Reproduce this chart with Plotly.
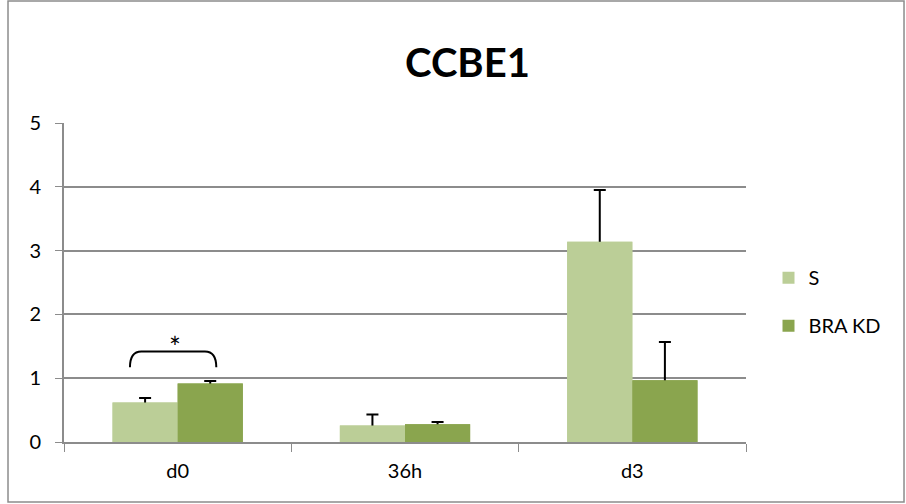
import plotly.graph_objects as go

categories = ["d0", "36h", "d3"]
s_vals = [0.62, 0.26, 3.14]
s_err = [0.07, 0.17, 0.81]
kd_vals = [0.915, 0.28, 0.967]
kd_err = [0.04, 0.035, 0.60]
series_names = ["S", "BRA KD"]
title_text = "CCBE1"
y_ticks = [0, 1, 2, 3, 4, 5]

c_s = "#BBCE97"
c_kd = "#8AA54E"
font_fam = "Lato, 'Open Sans', sans-serif"
hide = [0.05, 0.05, 0.05]  # error stem start hidden inside bar

fig = go.Figure()
fig.add_trace(go.Bar(
    x=categories, y=s_vals, name=series_names[0], marker_color=c_s,
    marker_line_width=0, legendgroup="a", offsetgroup="1",
    error_y=dict(type="data", symmetric=False, array=s_err, arrayminus=hide,
                 color="black", thickness=2, width=6),
))
fig.add_trace(go.Bar(
    x=categories, y=kd_vals, name=series_names[1], marker_color=c_kd,
    marker_line_width=0, legendgroup="b", offsetgroup="2",
    error_y=dict(type="data", symmetric=False, array=kd_err, arrayminus=hide,
                 color="black", thickness=2, width=6),
))
# cover copies (hide lower error caps inside bars)
fig.add_trace(go.Bar(x=categories, y=s_vals, marker_color=c_s, marker_line_width=0,
                     offsetgroup="1", showlegend=False, hoverinfo="skip", legendgroup="a"))
fig.add_trace(go.Bar(x=categories, y=kd_vals, marker_color=c_kd, marker_line_width=0,
                     offsetgroup="2", showlegend=False, hoverinfo="skip", legendgroup="b"))

# significance bracket over d0
fig.add_shape(type="path", xref="x", yref="y",
              path="M -0.21,1.17 Q -0.21,1.42 -0.16,1.42 L 0.12,1.42 Q 0.17,1.42 0.17,1.17",
              line=dict(color="black", width=2))
fig.add_annotation(x=-0.01, y=1.49, xref="x", yref="y", text="*", showarrow=False,
                   font=dict(size=28, color="black", family=font_fam))

# outer border
fig.add_shape(type="rect", xref="paper", yref="paper",
              x0=-0.0821, x1=1.2317, y0=-0.188, y1=1.3824,
              line=dict(color="#8c8c8c", width=1.5), layer="below")

fig.update_layout(
    width=906, height=504,
    margin=dict(l=64, r=160, t=123, b=62),
    paper_bgcolor="white", plot_bgcolor="white",
    barmode="group", bargap=0.427, bargroupgap=0,
    title=dict(text="<b>" + title_text + "</b>", x=0.516, xanchor="center",
               y=0.875, yanchor="middle",
               font=dict(size=40, color="black", family=font_fam)),
    font=dict(family=font_fam, color="black", size=20),
    legend=dict(x=1.033, xanchor="left", y=0.44, yanchor="middle",
                traceorder="grouped", tracegroupgap=19,
                font=dict(size=20, color="black"), bgcolor="rgba(0,0,0,0)"),
    showlegend=True,
)
fig.update_xaxes(type="category", tickson="boundaries", ticks="outside", ticklen=8,
                 tickcolor="#8c8c8c", showline=True, linecolor="#8c8c8c", linewidth=2,
                 showgrid=False, tickfont=dict(size=20, color="black"),
                 ticklabelstandoff=10)
fig.update_yaxes(range=[0, 5], tickvals=y_ticks, ticks="outside", ticklen=7,
                 tickcolor="#8c8c8c", showline=True, linecolor="#8c8c8c", linewidth=2,
                 showgrid=True, gridcolor="#8c8c8c", gridwidth=1.5, zeroline=False,
                 tickfont=dict(size=20, color="black"), ticklabelstandoff=10)

fig.write_html("out.html", config={"displayModeBar": False},
               post_script="document.body.style.margin='0';")
